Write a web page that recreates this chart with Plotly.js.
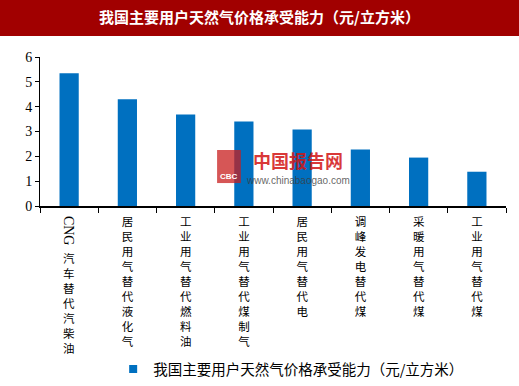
<!DOCTYPE html>
<html>
<head>
<meta charset="utf-8">
<script src="https://cdn.plot.ly/plotly-3.0.1.min.js"></script>
<style>html,body{margin:0;padding:0;background:#fff;}#chart{width:519px;height:386px;}</style>
</head>
<body>
<div id="chart"></div>
<script>
var categories = ["CNG汽车替代汽柴油", "居民用气替代液化气", "工业用气替代燃料油", "工业用气替代煤制气", "居民用气替代电", "调峰发电替代煤", "采暖用气替代煤", "工业用气替代煤"];
var values = [5.35, 4.3, 3.68, 3.4, 3.08, 2.28, 1.95, 1.38];
// first label: "CNG" is written sideways, the Chinese part stacked below it
var firstLabelLatin = "CNG";
var firstLabelCJK = "汽<br>车<br>替<br>代<br>汽<br>柴<br>油";
var tickLabels = ["", "居<br>民<br>用<br>气<br>替<br>代<br>液<br>化<br>气", "工<br>业<br>用<br>气<br>替<br>代<br>燃<br>料<br>油", "工<br>业<br>用<br>气<br>替<br>代<br>煤<br>制<br>气", "居<br>民<br>用<br>气<br>替<br>代<br>电", "调<br>峰<br>发<br>电<br>替<br>代<br>煤", "采<br>暖<br>用<br>气<br>替<br>代<br>煤", "工<br>业<br>用<br>气<br>替<br>代<br>煤"];
var seriesName = "我国主要用户天然气价格承受能力（元/立方米）";
var titleText = "我国主要用户天然气价格承受能力（元/立方米）";

var blue = "#0070c0";
var cjk = "'Noto Sans CJK SC', 'Liberation Serif', sans-serif";
var serif = "'Liberation Serif', 'Noto Sans CJK SC', serif";

var traces = [
  {type: "bar", x: categories, y: values, marker: {color: blue}, showlegend: false, hoverinfo: "x+y"},
  {type: "scatter", mode: "markers", x: [categories[0]], y: [null], name: seriesName,
   marker: {symbol: "square", size: 8, color: blue}, showlegend: true}
];

var layout = {
  width: 519, height: 386,
  margin: {l: 40, r: 13, t: 57, b: 180, autoexpand: false},
  paper_bgcolor: "#ffffff", plot_bgcolor: "#ffffff",
  bargap: 0.67,
  title: {text: "<b>" + titleText + "</b>", font: {family: cjk, size: 15, color: "#ffffff"},
          x: 0.5, xanchor: "center", y: 1 - 18/386, yanchor: "middle", yref: "container"},
  xaxis: {type: "category", tickmode: "array", tickvals: categories, ticktext: tickLabels,
          tickangle: 0, tickson: "boundaries", ticks: "outside", ticklen: 5, tickcolor: "#000",
          ticklabelstandoff: 5, automargin: false,
          showline: true, linecolor: "#000", linewidth: 1.5, showgrid: false, zeroline: false,
          tickfont: {family: cjk, size: 11.5, color: "#000"}, fixedrange: true},
  yaxis: {range: [0, 6], dtick: 1, ticks: "outside", ticklen: 4, tickcolor: "#000", automargin: false,
          showline: true, linecolor: "#000", linewidth: 1, showgrid: false, zeroline: false,
          tickfont: {family: serif, size: 14, color: "#000"}, fixedrange: true},
  legend: {orientation: "h", x: 0.157, xanchor: "left", y: -1.094, yanchor: "middle",
           font: {family: cjk, size: 14.5, color: "#000"}, bgcolor: "rgba(0,0,0,0)"},
  shapes: [
    {type: "rect", xref: "paper", yref: "paper", x0: -0.09, x1: 1.03, y0: 1.141, y1: 1.40,
     fillcolor: "#a10000", line: {width: 0}, layer: "below"},
    {type: "rect", xref: "paper", yref: "paper", x0: 0.380, x1: 0.431, y0: 0.154, y1: 0.376,
     fillcolor: "rgba(200,30,30,0.75)", line: {width: 0}, layer: "above"}
  ],
  annotations: [
    {text: firstLabelLatin, xref: "x", x: categories[0], yref: "paper", y: -0.168, textangle: 90,
     showarrow: false, xanchor: "center", yanchor: "middle", font: {family: serif, size: 14, color: "#000"}},
    {text: firstLabelCJK, xref: "x", x: categories[0], yref: "paper", y: -0.288, yanchor: "top",
     showarrow: false, xanchor: "center", borderpad: 0, font: {family: cjk, size: 11.5, color: "#000"}},
    {text: "<b>中国报告网</b>", xref: "paper", yref: "paper", x: 0.554, y: 0.312, showarrow: false,
     xanchor: "center", yanchor: "middle", font: {family: cjk, size: 18, color: "rgba(210,20,20,0.85)"}},
    {text: "www.chinabaogao.com", xref: "paper", yref: "paper", x: 0.554, y: 0.168, showarrow: false,
     xanchor: "center", yanchor: "middle", font: {family: "'Liberation Sans', sans-serif", size: 10, color: "rgba(60,60,60,0.8)"}},
    {text: "<b>CBC</b>", xref: "paper", yref: "paper", x: 0.405, y: 0.2, showarrow: false,
     xanchor: "center", yanchor: "middle", font: {family: "'Liberation Sans', sans-serif", size: 8, color: "#ffffff"}}
  ]
};

Plotly.newPlot("chart", traces, layout, {displayModeBar: false, staticPlot: true});
</script>
</body>
</html>
